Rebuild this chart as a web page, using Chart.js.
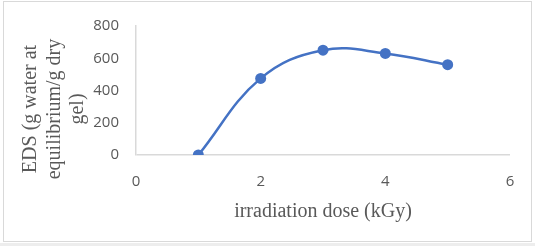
<!DOCTYPE html>
<html>
<head>
<meta charset="utf-8">
<script src="https://cdn.jsdelivr.net/npm/chart.js@4/dist/chart.umd.min.js"></script>
<style>
  html, body { margin: 0; padding: 0; background: #fff; }
  #wrap { width: 535px; height: 246px; position: relative; }
</style>
</head>
<body>
<div id="wrap"><canvas id="chart" width="535" height="246"></canvas></div>
<script>
// irradiation dose (kGy) vs EDS
const doses = [1, 2, 3, 4, 5];
const edsValues = [0, 475, 650, 630, 560];
const xTicks = [0, 2, 4, 6];
const yTicks = [0, 200, 400, 600, 800];
const yTitleLines = ["EDS (g water at", "equilibrium/g dry", "gel)"];
const xTitle = "irradiation dose (kGy)";

const frame = {
    id: "frame",
    beforeDraw(chart) {
        const ctx = chart.ctx;
        ctx.save();
        ctx.fillStyle = "#ededed";
        ctx.fillRect(0, 243, 535, 3);
        ctx.strokeStyle = "#d9d9d9";
        ctx.lineWidth = 1;
        ctx.strokeRect(3.5, 1.5, 528, 240);
        ctx.restore();
    },
    afterDraw(chart) {
        const ctx = chart.ctx;
        // y title, three lines rotated
        ctx.save();
        ctx.fillStyle = "#595959";
        ctx.font = "20px 'Liberation Serif', 'Times New Roman', serif";
        ctx.textAlign = "center";
        ctx.textBaseline = "middle";
        ctx.translate(0, 109);
        ctx.rotate(-Math.PI / 2);
        const xs = [31, 55, 78];
        yTitleLines.forEach((line, i) => {
            ctx.fillText(line, 0, xs[i]);
        });
        ctx.restore();

        ctx.save();
        ctx.fillStyle = "#595959";
        ctx.font = "20px 'Liberation Serif', 'Times New Roman', serif";
        ctx.textAlign = "center";
        ctx.textBaseline = "middle";
        ctx.fillText(xTitle, 323, 212);
        ctx.restore();
    }
};

const ctx = document.getElementById("chart").getContext("2d");
new Chart(ctx, {
    type: "scatter",
    data: {
        datasets: [
            {
                label: "EDS",
                data: doses.map((d, i) => ({ x: d, y: edsValues[i] })),
                showLine: true,
                borderColor: "#4472c4",
                backgroundColor: "#4472c4",
                borderWidth: 2.5,
                pointRadius: 5.5,
                pointHoverRadius: 5.5,
                pointBorderWidth: 0,
                tension: 0.4,
            },
        ],
    },
    options: {
        responsive: false,
        animation: false,
        layout: {
            padding: { left: 0, right: 25, top: 22, bottom: 0 },
        },
        scales: {
            x: {
                type: "linear",
                min: 0,
                max: 6,
                afterBuildTicks: (axis) => {
                    axis.ticks = xTicks.map((v) => ({ value: v }));
                },
                grid: { display: false, drawTicks: false },
                border: { display: false },
                ticks: {
                    color: "#595959",
                    font: { family: "'Open Sans', 'Liberation Sans', sans-serif", size: 15 },
                    padding: 18,
                    maxRotation: 0,
                },
                afterFit: (axis) => {
                    axis.height = 91;
                },
            },
            y: {
                min: 0,
                max: 800,
                afterBuildTicks: (axis) => {
                    axis.ticks = yTicks.map((v) => ({ value: v }));
                },
                grid: {
                    drawTicks: false,
                    color: (c) => (c.tick.value === 0 ? "#d9d9d9" : "rgba(0,0,0,0)"),
                    lineWidth: 1.5,
                },
                border: { display: true, color: "#d9d9d9", width: 1.5 },
                ticks: {
                    color: "#595959",
                    font: { family: "'Open Sans', 'Liberation Sans', sans-serif", size: 15 },
                    padding: 17,
                },
                afterFit: (axis) => {
                    axis.width = 136;
                },
            },
        },
        plugins: {
            legend: { display: false },
            tooltip: { enabled: false },
        },
    },
    plugins: [frame],
});
</script>
</body>
</html>
